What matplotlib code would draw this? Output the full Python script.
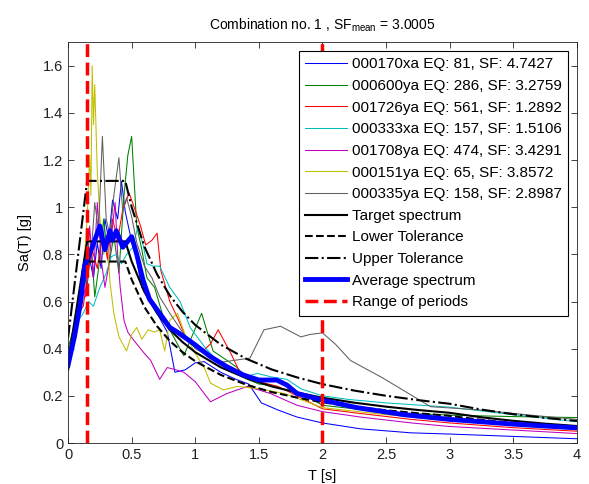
import matplotlib
matplotlib.use('Agg')
import matplotlib.pyplot as plt

plt.rcParams['font.family'] = ['Liberation Sans', 'DejaVu Sans']
plt.rcParams['mathtext.fontset'] = 'custom'
plt.rcParams['mathtext.rm'] = 'Liberation Sans'

# Scaled record spectra (period T [s], Sa [g])
names = ['000170xa EQ: 81, SF: 4.7427', '000600ya EQ: 286, SF: 3.2759',
         '001726ya EQ: 561, SF: 1.2892', '000333xa EQ: 157, SF: 1.5106',
         '001708ya EQ: 474, SF: 3.4291', '000151ya EQ: 65, SF: 3.8572',
         '000335ya EQ: 158, SF: 2.8987']
colors = ['#0000ff', '#008000', '#ff0000', '#00bfbf', '#bf00bf', '#bfbf00', '#606060']

t_rec1 = [0, 0.04, 0.08, 0.11, 0.14, 0.17, 0.2, 0.23, 0.26, 0.29, 0.32, 0.35, 0.39, 0.42, 0.45,
          0.49, 0.53, 0.58, 0.63, 0.7, 0.78, 0.84, 0.92, 1.0, 1.07, 1.2, 1.32, 1.42, 1.52, 1.65,
          1.8, 2.0, 2.3, 2.7, 3.0, 3.5, 4.0]
sa_rec1 = [0.33, 0.42, 0.56, 0.64, 0.70, 0.78, 0.70, 0.85, 0.74, 0.95, 0.86, 1.03, 0.95, 1.11, 0.98,
           0.88, 0.80, 0.66, 0.62, 0.55, 0.47, 0.30, 0.31, 0.34, 0.345, 0.30, 0.27, 0.25, 0.17, 0.14,
           0.11, 0.085, 0.06, 0.043, 0.038, 0.028, 0.018]

t_rec2 = [0, 0.04, 0.08, 0.12, 0.15, 0.18, 0.21, 0.25, 0.28, 0.32, 0.36, 0.4, 0.44, 0.47, 0.5,
          0.54, 0.58, 0.62, 0.68, 0.74, 0.8, 0.86, 0.91, 0.98, 1.05, 1.14, 1.25, 1.33, 1.41, 1.5,
          1.6, 1.75, 1.9, 2.0, 2.5, 3.0, 3.5, 4.0]
sa_rec2 = [0.40, 0.48, 0.60, 0.72, 0.66, 0.85, 0.62, 0.78, 0.95, 0.75, 0.88, 0.72, 1.05, 1.22, 1.30,
           0.92, 0.82, 0.70, 0.66, 0.55, 0.48, 0.42, 0.37, 0.46, 0.55, 0.39, 0.35, 0.32, 0.27, 0.25,
           0.245, 0.22, 0.19, 0.16, 0.13, 0.118, 0.112, 0.108]

t_rec3 = [0, 0.04, 0.08, 0.12, 0.15, 0.19, 0.23, 0.27, 0.31, 0.35, 0.39, 0.43, 0.48, 0.52, 0.57,
          0.61, 0.66, 0.7, 0.73, 0.8, 0.87, 0.93, 1.0, 1.06, 1.12, 1.18, 1.24, 1.28, 1.35, 1.5,
          1.65, 1.8, 2.0, 2.3, 2.7, 3.0, 3.5, 4.0]
sa_rec3 = [0.36, 0.45, 0.55, 0.58, 0.70, 0.82, 0.74, 0.90, 0.78, 0.95, 0.86, 0.99, 1.06, 1.0, 0.92,
           0.84, 0.86, 0.89, 0.73, 0.60, 0.52, 0.44, 0.42, 0.39, 0.42, 0.48, 0.42, 0.38, 0.30, 0.26,
           0.24, 0.20, 0.145, 0.125, 0.10, 0.085, 0.065, 0.05]

t_rec4 = [0, 0.04, 0.08, 0.12, 0.16, 0.2, 0.25, 0.3, 0.34, 0.38, 0.42, 0.46, 0.51, 0.55, 0.59,
          0.62, 0.67, 0.72, 0.8, 0.88, 0.96, 1.07, 1.17, 1.28, 1.38, 1.49, 1.6, 1.72, 1.83, 2.0,
          2.2, 2.5, 3.0, 3.5, 4.0]
sa_rec4 = [0.34, 0.40, 0.52, 0.55, 0.60, 0.58, 0.66, 0.72, 0.79, 0.80, 0.76, 0.80, 0.83, 0.92, 0.84,
           0.76, 0.75, 0.75, 0.66, 0.60, 0.49, 0.41, 0.35, 0.31, 0.28, 0.295, 0.28, 0.27, 0.23, 0.20,
           0.185, 0.17, 0.152, 0.12, 0.09]

t_rec5 = [0, 0.04, 0.08, 0.11, 0.14, 0.17, 0.2, 0.23, 0.26, 0.29, 0.32, 0.35, 0.37, 0.39, 0.41,
          0.44, 0.47, 0.51, 0.54, 0.6, 0.65, 0.72, 0.78, 0.85, 0.91, 1.0, 1.12, 1.25, 1.41, 1.59,
          1.8, 2.0, 2.3, 2.7, 3.0, 3.5, 4.0]
sa_rec5 = [0.35, 0.44, 0.58, 0.68, 0.62, 0.92, 0.70, 1.02, 0.78, 0.66, 0.75, 0.92, 1.02, 0.80, 0.66,
           0.52, 0.47, 0.44, 0.42, 0.38, 0.35, 0.27, 0.32, 0.31, 0.30, 0.26, 0.175, 0.21, 0.24, 0.21,
           0.16, 0.133, 0.11, 0.085, 0.07, 0.055, 0.04]

t_rec6 = [0, 0.03, 0.06, 0.09, 0.12, 0.15, 0.17, 0.18, 0.19, 0.2, 0.21, 0.23, 0.25, 0.28, 0.31,
          0.33, 0.36, 0.4, 0.43, 0.46, 0.5, 0.54, 0.58, 0.63, 0.68, 0.72, 0.76, 0.8, 0.86, 0.92,
          1.0, 1.07, 1.12, 1.22, 1.33, 1.5, 1.7, 2.0, 2.5, 3.0, 3.5, 4.0]
sa_rec6 = [0.32, 0.40, 0.52, 0.60, 0.72, 0.95, 1.22, 1.05, 1.60, 1.35, 1.52, 1.15, 0.96, 0.80, 0.86,
           0.68, 0.55, 0.45, 0.42, 0.39, 0.46, 0.49, 0.44, 0.48, 0.47, 0.48, 0.39, 0.52, 0.55, 0.46,
           0.38, 0.32, 0.254, 0.225, 0.24, 0.23, 0.21, 0.15, 0.12, 0.10, 0.08, 0.065]

t_rec7 = [0, 0.04, 0.08, 0.12, 0.15, 0.18, 0.21, 0.24, 0.27, 0.3, 0.33, 0.36, 0.4, 0.43, 0.46,
          0.5, 0.54, 0.6, 0.66, 0.72, 0.8, 0.9, 1.0, 1.1, 1.17, 1.3, 1.43, 1.54, 1.67, 1.83,
          1.9, 2.0, 2.1, 2.22, 2.46, 2.72, 2.85, 3.24, 3.6, 4.0]
sa_rec7 = [0.38, 0.46, 0.62, 0.70, 0.86, 0.78, 1.02, 0.90, 1.30, 0.95, 0.88, 1.05, 1.21, 0.98, 1.04,
           0.96, 0.85, 0.75, 0.70, 0.62, 0.55, 0.47, 0.40, 0.37, 0.34, 0.35, 0.36, 0.48, 0.495, 0.45,
           0.46, 0.467, 0.42, 0.35, 0.28, 0.196, 0.154, 0.14, 0.12, 0.1]

# Target design spectrum and tolerance band factors
t_target = [0, 0.15, 0.45, 0.5, 0.6, 0.7, 0.8, 0.9, 1.0, 1.2, 1.4, 1.6, 1.8, 2.0, 2.25, 2.5,
            2.75, 3.0, 3.25, 3.5, 3.75, 4.0]
sa_target = [0.342, 0.855, 0.855, 0.770, 0.641, 0.550, 0.481, 0.428, 0.385, 0.321, 0.275, 0.240,
             0.214, 0.192, 0.171, 0.154, 0.140, 0.128, 0.109, 0.094, 0.082, 0.072]
lower_factor = 0.9
upper_factor = 1.3

# Mean of the scaled records
t_avg = [0, 0.05, 0.1, 0.13, 0.17, 0.21, 0.25, 0.29, 0.33, 0.35, 0.38, 0.43, 0.5, 0.54, 0.59,
         0.64, 0.72, 0.8, 0.86, 0.99, 1.12, 1.25, 1.38, 1.5, 1.64, 1.72, 1.8, 2.0, 2.27, 2.64,
         3.0, 3.5, 4.0]
sa_avg = [0.33, 0.45, 0.60, 0.75, 0.80, 0.86, 0.92, 0.82, 0.90, 0.86, 0.90, 0.83, 0.875, 0.80, 0.69,
          0.61, 0.55, 0.49, 0.47, 0.42, 0.366, 0.323, 0.288, 0.267, 0.267, 0.246, 0.21, 0.182, 0.15,
          0.12, 0.10, 0.08, 0.064]

period_range = [0.15, 2.0]

records_t = [t_rec1, t_rec2, t_rec3, t_rec4, t_rec5, t_rec6, t_rec7]
records_sa = [sa_rec1, sa_rec2, sa_rec3, sa_rec4, sa_rec5, sa_rec6, sa_rec7]

fig = plt.figure(figsize=(5.89, 4.84), dpi=100)
ax = fig.add_axes([0.1155, 0.0847, 0.864, 0.8283])

for t, sa, c, n in zip(records_t, records_sa, colors, names):
    ax.plot(t, sa, color=c, lw=0.75, label=n)

ax.plot(t_target, sa_target, color='k', lw=1.5, label='Target spectrum')
ax.plot(t_target, [lower_factor * s for s in sa_target], color='k', lw=1.5, ls='--',
        label='Lower Tolerance')
ax.plot(t_target, [upper_factor * s for s in sa_target], color='k', lw=1.5, ls='-.',
        label='Upper Tolerance')
ax.plot(t_avg, sa_avg, color='#0000ff', lw=3.5, label='Average spectrum')
for i, tp in enumerate(period_range):
    ax.axvline(tp, color='#ff0000', lw=2.5, ls='--',
               label='Range of periods' if i == 0 else None)

ax.set_xlim(0, 4)
ax.set_ylim(0, 1.7)
ax.set_xticks([0, 0.5, 1, 1.5, 2, 2.5, 3, 3.5, 4])
ax.set_xticklabels(['0', '0.5', '1', '1.5', '2', '2.5', '3', '3.5', '4'])
ax.set_yticks([0, 0.2, 0.4, 0.6, 0.8, 1.0, 1.2, 1.4, 1.6])
ax.set_yticklabels(['0', '0.2', '0.4', '0.6', '0.8', '1', '1.2', '1.4', '1.6'])
ax.tick_params(direction='in', top=True, right=True, length=4, width=0.6,
               labelsize=10.5, colors='#222222')
for sp in ax.spines.values():
    sp.set_linewidth(0.6)
    sp.set_color('#222222')

ax.set_xlabel('T [s]', fontsize=10.5, labelpad=5)
ax.set_ylabel('Sa(T) [g]', fontsize=10.5, labelpad=8)
ax.set_title(r'Combination no. 1 , SF$_{\mathrm{mean}}$ = 3.0005', fontsize=10, pad=9)

leg = ax.legend(loc='upper right', fontsize=11, frameon=True, fancybox=False,
                edgecolor='k', framealpha=1, handlelength=2.75, handletextpad=0.3,
                labelspacing=0.5, borderpad=0.4, borderaxespad=0.6)
leg.get_frame().set_linewidth(0.8)

fig.savefig('out.png', dpi=100)
